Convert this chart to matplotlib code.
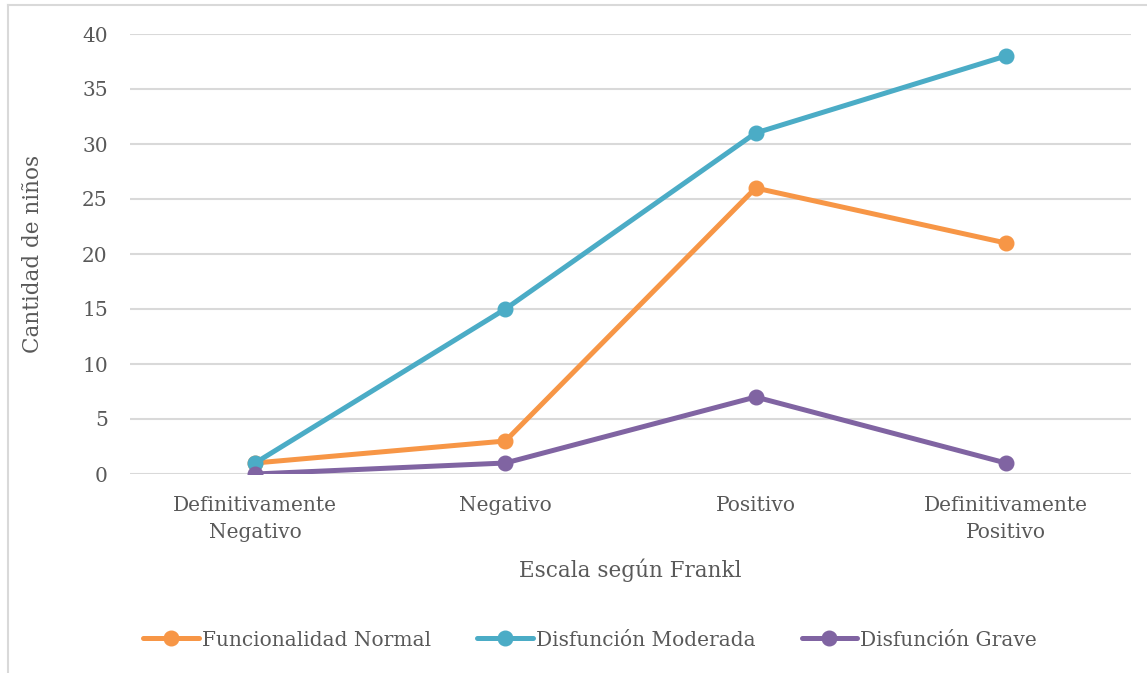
import matplotlib
matplotlib.use("Agg")
from matplotlib import pyplot as plt
from matplotlib.lines import Line2D

# categories on the Frankl behaviour scale
categories = ["Definitivamente\nNegativo", "Negativo", "Positivo", "Definitivamente\nPositivo"]

normal = [1, 3, 26, 21]
moderada = [1, 15, 31, 38]
grave = [0, 1, 7, 1]

series = [
    ("Funcionalidad Normal", normal, "#F79646"),
    ("Disfunción Moderada", moderada, "#4BACC6"),
    ("Disfunción Grave", grave, "#8064A2"),
]

text_color = "#595959"
grid_color = "#D9D9D9"

plt.rcParams["font.family"] = ["DejaVu Serif"]

W, H = 1147, 673
fig = plt.figure(figsize=(W / 100, H / 100), dpi=100)
ax = fig.add_axes([130 / W, 1 - 474 / H, (1131 - 130) / W, 440 / H])

x = list(range(len(categories)))
for name, vals, color in series:
    ax.plot(x, vals, color=color, linewidth=3.6, marker="o", markersize=10.5,
            solid_capstyle="round", label=name, zorder=3)

ax.set_xlim(-0.5, len(categories) - 0.5)
ax.set_ylim(0, 40)
ax.set_yticks(range(0, 41, 5))
ax.set_xticks(x)
ax.set_xticklabels(categories, linespacing=1.5)
ax.yaxis.grid(True, color=grid_color, linewidth=1.5)
ax.set_axisbelow(True)
for s in ax.spines.values():
    s.set_visible(False)
ax.tick_params(axis="both", length=0, colors=text_color, labelsize=14.5)
ax.tick_params(axis="y", pad=16)
ax.tick_params(axis="x", pad=16)

ax.set_xlabel("Escala según Frankl", color=text_color, fontsize=15.5, labelpad=12)
ax.set_ylabel("Cantidad de niños", color=text_color, fontsize=15.5)
ax.yaxis.set_label_coords(-0.086, 0.5)

leg = fig.legend(loc="center", bbox_to_anchor=(590 / W, 1 - 640 / H), ncol=3,
                 frameon=False, fontsize=14.5, handlelength=2.75, handletextpad=0.15,
                 columnspacing=2.3, labelcolor=text_color)

# outer frame of the chart area
fig.add_artist(Line2D([8 / W, 8 / W], [0, 1 - 5 / H], transform=fig.transFigure,
                      color=grid_color, linewidth=1.5))
fig.add_artist(Line2D([8 / W, 1], [1 - 5 / H, 1 - 5 / H], transform=fig.transFigure,
                      color=grid_color, linewidth=1.5))

fig.savefig("out.png", dpi=100)
